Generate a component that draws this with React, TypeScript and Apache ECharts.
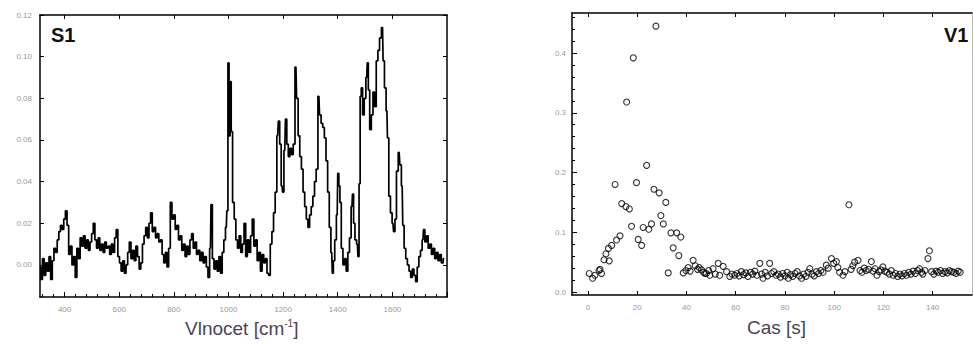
import React, { useEffect, useRef } from "react";
import * as echarts from "echarts";

// Spectrum S1: [wavenumber cm^-1, intensity]
const spectrum: [number, number][] = [
  [310, -0.001], [316, -0.007], [322, 0.003], [328, -0.005], [334, 0.001], [340, -0.003], [346, 0.004], [352, -0.007], [358, 0.002],
  [364, 0.008], [370, 0.006], [376, 0.012], [382, 0.016], [388, 0.019], [394, 0.017], [400, 0.022], [406, 0.026], [412, 0.019],
  [418, 0.005], [424, 0.009], [430, 0.0], [436, 0.004], [442, -0.006], [448, 0.008], [454, 0.003], [460, 0.013], [466, 0.009],
  [472, 0.014], [478, 0.008], [484, 0.012], [490, 0.007], [496, 0.011], [502, 0.015], [508, 0.02], [514, 0.012], [520, 0.008],
  [526, 0.013], [532, 0.007], [538, 0.01], [544, 0.006], [550, 0.011], [556, 0.008], [562, 0.009], [568, 0.005], [574, 0.01],
  [580, 0.006], [586, 0.013], [592, 0.017], [598, 0.004], [604, 0.001], [610, -0.003], [616, 0.002], [622, -0.004], [628, 0.0],
  [634, 0.006], [640, 0.011], [646, 0.003], [652, 0.007], [658, 0.002], [664, 0.009], [670, 0.004], [676, -0.002], [682, 0.001],
  [688, 0.01], [694, 0.014], [700, 0.018], [706, 0.013], [712, 0.02], [718, 0.025], [724, 0.016], [730, 0.018], [736, 0.013],
  [742, 0.015], [748, 0.011], [754, 0.012], [760, 0.005], [766, 0.001], [772, 0.006], [778, -0.001], [784, 0.008], [790, 0.03],
  [796, 0.022], [802, 0.024], [808, 0.017], [814, 0.019], [820, 0.012], [826, 0.014], [832, 0.007], [838, 0.01], [844, 0.004],
  [850, 0.009], [856, 0.005], [862, 0.012], [868, 0.015], [874, 0.008], [880, 0.011], [886, 0.005], [892, 0.007], [898, 0.002],
  [904, 0.006], [910, 0.001], [916, 0.004], [922, -0.001], [928, -0.006], [934, 0.008], [938, 0.029], [944, 0.003], [950, -0.002],
  [956, 0.002], [962, -0.003], [968, 0.004], [974, -0.004], [980, 0.006], [986, 0.012], [992, 0.018], [996, 0.026], [1000, 0.097],
  [1004, 0.062], [1008, 0.088], [1012, 0.064], [1018, 0.03], [1024, 0.022], [1030, 0.012], [1036, 0.008], [1042, 0.014], [1048, 0.006],
  [1054, 0.01], [1060, 0.02], [1066, 0.004], [1072, 0.012], [1078, 0.006], [1084, 0.014], [1090, 0.022], [1096, 0.009], [1102, 0.012],
  [1108, 0.002], [1114, 0.006], [1120, -0.003], [1126, 0.005], [1132, 0.001], [1138, 0.003], [1144, -0.004], [1150, -0.005],
  [1156, 0.01], [1162, 0.016], [1168, 0.025], [1174, 0.035], [1180, 0.062], [1185, 0.069], [1190, 0.058], [1196, 0.038], [1200, 0.035],
  [1206, 0.055], [1211, 0.07], [1216, 0.058], [1222, 0.052], [1228, 0.056], [1234, 0.053], [1240, 0.058], [1247, 0.095], [1252, 0.08],
  [1258, 0.062], [1264, 0.052], [1270, 0.046], [1276, 0.035], [1282, 0.028], [1288, 0.022], [1294, 0.018], [1300, 0.024], [1306, 0.028],
  [1312, 0.033], [1318, 0.04], [1324, 0.046], [1331, 0.081], [1336, 0.072], [1342, 0.068], [1348, 0.066], [1354, 0.061], [1360, 0.05],
  [1366, 0.035], [1372, 0.018], [1378, 0.006], [1382, -0.004], [1386, 0.002], [1392, 0.012], [1398, 0.024], [1402, 0.044], [1406, 0.038],
  [1410, 0.03], [1416, 0.008], [1422, 0.0], [1428, 0.003], [1434, -0.003], [1440, 0.006], [1446, 0.013], [1452, 0.028], [1456, 0.034],
  [1460, 0.02], [1466, 0.012], [1472, 0.01], [1476, 0.004], [1480, 0.039], [1484, 0.081], [1488, 0.085], [1494, 0.072], [1500, 0.08],
  [1506, 0.09], [1510, 0.097], [1514, 0.084], [1520, 0.065], [1526, 0.072], [1532, 0.083], [1538, 0.076], [1544, 0.098], [1550, 0.103],
  [1556, 0.109], [1564, 0.114], [1568, 0.098], [1574, 0.085], [1580, 0.074], [1584, 0.061], [1590, 0.033], [1596, 0.025], [1602, 0.02],
  [1607, 0.016], [1612, 0.022], [1618, 0.045], [1625, 0.054], [1630, 0.048], [1636, 0.038], [1640, 0.019], [1646, 0.008], [1652, 0.003],
  [1658, 0.0], [1664, -0.003], [1670, -0.006], [1676, -0.002], [1682, -0.005], [1688, -0.008], [1694, -0.001], [1700, 0.004],
  [1706, 0.007], [1712, 0.012], [1716, 0.017], [1722, 0.011], [1728, 0.014], [1734, 0.008], [1740, 0.01], [1746, 0.005], [1752, 0.008],
  [1758, 0.003], [1764, 0.006], [1770, 0.002], [1776, 0.005], [1782, 0.001], [1790, 0.003],
];

// V1: [time s, value]
const timeSeries: [number, number][] = [
  [0.5, 0.031], [1.9, 0.023], [2.8, 0.028], [4.5, 0.036], [4.9, 0.038], [5.5, 0.031], [6.5, 0.054], [7.3, 0.064], [8.3, 0.073],
  [8.6, 0.052], [9.6, 0.078], [11.0, 0.18], [11.6, 0.087], [13.0, 0.094], [13.7, 0.148], [15.4, 0.143], [15.7, 0.318], [16.8, 0.139],
  [17.7, 0.11], [18.4, 0.392], [19.7, 0.183], [20.4, 0.088], [21.8, 0.078], [22.4, 0.108], [23.8, 0.212], [24.7, 0.105], [25.8, 0.114],
  [26.8, 0.172], [27.6, 0.445], [28.9, 0.166], [29.6, 0.128], [30.6, 0.114], [31.6, 0.15], [32.6, 0.032], [33.7, 0.099], [34.6, 0.074],
  [36.0, 0.099], [36.9, 0.061], [37.7, 0.092], [38.7, 0.032], [39.8, 0.036], [40.7, 0.041], [41.5, 0.035], [42.7, 0.053], [43.6, 0.044],
  [44.5, 0.038], [45.2, 0.041], [46.1, 0.037], [47.0, 0.033], [47.5, 0.031], [48.1, 0.031], [49.0, 0.036], [49.5, 0.028], [50.8, 0.039],
  [51.7, 0.03], [52.9, 0.048], [53.5, 0.028], [54.9, 0.043], [56.3, 0.034], [57.6, 0.026], [58.5, 0.03], [59.6, 0.028],
  [60.5, 0.031], [61.4, 0.027], [62.3, 0.034], [63.2, 0.029], [64.1, 0.032], [65.0, 0.026], [66.0, 0.033], [66.9, 0.03], [67.8, 0.035],
  [68.6, 0.028], [69.8, 0.048], [70.5, 0.03], [71.1, 0.023], [72.0, 0.033], [72.9, 0.027], [73.8, 0.048], [74.6, 0.031], [75.5, 0.034],
  [76.4, 0.028], [77.3, 0.03], [78.2, 0.025], [79.1, 0.031], [80.0, 0.027], [80.9, 0.033], [81.4, 0.023], [82.3, 0.029], [83.2, 0.026],
  [84.1, 0.031], [85.0, 0.034], [85.9, 0.027], [86.8, 0.023], [87.6, 0.03], [88.5, 0.026], [89.4, 0.033], [90.1, 0.039], [91.0, 0.03],
  [91.9, 0.027], [92.8, 0.034], [93.7, 0.031], [94.6, 0.036], [95.5, 0.033], [96.8, 0.045], [97.6, 0.04], [98.9, 0.056], [99.8, 0.048],
  [100.9, 0.051], [101.5, 0.041], [102.2, 0.033], [103.6, 0.028], [104.4, 0.034], [106.0, 0.146], [106.9, 0.038], [107.6, 0.044],
  [108.3, 0.05], [109.7, 0.053], [110.5, 0.036], [111.3, 0.033], [112.2, 0.04], [113.0, 0.036], [114.0, 0.038], [115.1, 0.051],
  [115.8, 0.035], [116.6, 0.039], [117.4, 0.028], [118.3, 0.034], [119.0, 0.037], [119.8, 0.042], [120.6, 0.035], [121.5, 0.033],
  [122.4, 0.03], [123.2, 0.036], [124.0, 0.028], [124.9, 0.031], [125.8, 0.026], [126.7, 0.03], [127.6, 0.027], [128.5, 0.031],
  [129.4, 0.028], [130.3, 0.033], [131.2, 0.03], [132.1, 0.035], [133.0, 0.031], [133.9, 0.036], [134.7, 0.039], [135.5, 0.033],
  [136.0, 0.03], [136.9, 0.036], [138.1, 0.056], [138.7, 0.069], [139.6, 0.034], [140.5, 0.03], [141.4, 0.035], [142.3, 0.033],
  [143.2, 0.036], [144.1, 0.031], [145.0, 0.034], [145.9, 0.032], [146.8, 0.036], [147.7, 0.034], [148.6, 0.033], [149.5, 0.031],
  [150.4, 0.035], [151.2, 0.033],
];

const specXTicks = [400, 600, 800, 1000, 1200, 1400, 1600];
const specYTicks = [0, 0.02, 0.04, 0.06, 0.08, 0.1, 0.12];
const timeXTicks = [0, 20, 40, 60, 80, 100, 120, 140];
const timeYTicks = [0, 0.1, 0.2, 0.3, 0.4];

const FONT = "Liberation Sans, Arial, sans-serif";
const specMinor: number[] = [];
for (let v = 320; v <= 1800; v += 40) specMinor.push(v);
const timeYMinor: number[] = [];
for (let i = 0; i <= 23; i++) timeYMinor.push(Math.round(i * 0.02 * 1000) / 1000);

const lineAx = { show: true, onZero: false, lineStyle: { color: "#000", width: 1.5 } };
const noLine = { show: false, onZero: false };
const tickLbl = { fontSize: 8, color: "#999999", fontFamily: FONT };

export default function App() {
  const ref = useRef<HTMLDivElement>(null);
  useEffect(() => {
    if (!ref.current) return;
    const chart = echarts.init(ref.current, undefined, { renderer: "svg" });
    const option: any = {
      animation: false,
      backgroundColor: "#fff",
      grid: [
        { left: 40, top: 15, width: 407, height: 282 },
        { left: 572, top: 13, width: 400, height: 282 },
      ],
      xAxis: [
        {
          gridIndex: 0, type: "value", position: "bottom", min: 310, max: 1800,
          axisLine: lineAx, splitLine: { show: false },
          axisTick: { show: true, inside: true, length: 5, customValues: [...specXTicks, 1800], lineStyle: { color: "#000" } },
          axisLabel: { ...tickLbl, margin: 8, customValues: specXTicks, formatter: (v: number) => String(v) },
        },
        {
          gridIndex: 0, type: "value", position: "bottom", min: 310, max: 1800,
          axisLine: noLine, splitLine: { show: false }, axisLabel: { show: false },
          axisTick: { show: true, inside: true, length: 3, customValues: specMinor, lineStyle: { color: "#000" } },
        },
        {
          gridIndex: 0, type: "value", position: "top", min: 310, max: 1800,
          axisLine: lineAx, splitLine: { show: false }, axisLabel: { show: false },
          axisTick: { show: true, inside: true, length: 4, customValues: specXTicks, lineStyle: { color: "#000" } },
        },
        {
          gridIndex: 1, type: "value", position: "bottom", min: -6.5, max: 156,
          axisLine: lineAx, splitLine: { show: false },
          axisTick: { show: true, inside: true, length: 4, customValues: timeXTicks, lineStyle: { color: "#000" } },
          axisLabel: { ...tickLbl, margin: 8, customValues: timeXTicks, formatter: (v: number) => String(v) },
        },
        {
          gridIndex: 1, type: "value", position: "top", min: -6.5, max: 156,
          axisLine: lineAx, splitLine: { show: false }, axisLabel: { show: false },
          axisTick: { show: true, inside: true, length: 4, customValues: timeXTicks, lineStyle: { color: "#000" } },
        },
      ],
      yAxis: [
        {
          gridIndex: 0, type: "value", position: "left", min: -0.0154, max: 0.12,
          axisLine: lineAx, splitLine: { show: false },
          axisTick: { show: true, inside: true, length: 4, customValues: specYTicks, lineStyle: { color: "#000" } },
          axisLabel: { ...tickLbl, margin: 8, customValues: specYTicks, formatter: (v: number) => v.toFixed(2) },
        },
        {
          gridIndex: 0, type: "value", position: "right", min: -0.0154, max: 0.12,
          axisLine: lineAx, splitLine: { show: false }, axisLabel: { show: false },
          axisTick: { show: true, inside: true, length: 4, customValues: specYTicks, lineStyle: { color: "#000" } },
        },
        {
          gridIndex: 1, type: "value", position: "left", min: -0.005, max: 0.467,
          axisLine: lineAx, splitLine: { show: false },
          axisTick: { show: true, inside: true, length: 5, customValues: timeYTicks, lineStyle: { color: "#000" } },
          axisLabel: { ...tickLbl, margin: 6, customValues: timeYTicks, formatter: (v: number) => v.toFixed(1) },
        },
        {
          gridIndex: 1, type: "value", position: "left", min: -0.005, max: 0.467,
          axisLine: noLine, splitLine: { show: false }, axisLabel: { show: false },
          axisTick: { show: true, inside: true, length: 3, customValues: timeYMinor, lineStyle: { color: "#000" } },
        },
        {
          gridIndex: 1, type: "value", position: "right", min: -0.005, max: 0.467,
          axisLine: { show: true, onZero: false, lineStyle: { color: "#bbb", width: 1 } }, splitLine: { show: false },
          axisLabel: { show: false }, axisTick: { show: false },
        },
      ],
      series: [
        {
          type: "line", xAxisIndex: 0, yAxisIndex: 0, data: spectrum, showSymbol: false, step: "middle",
          lineStyle: { color: "#000", width: 1.7 }, silent: true,
        },
        {
          type: "scatter", xAxisIndex: 3, yAxisIndex: 2, data: timeSeries, symbol: "circle", symbolSize: 6,
          itemStyle: { color: "rgba(255,255,255,0)", borderColor: "#000", borderWidth: 1.1 }, silent: true,
        },
      ],
      graphic: [
        { type: "text", left: 51, top: 25, style: { text: "S1", font: `bold 20px ${FONT}`, fill: "#111" } },
        { type: "text", left: 944, top: 25, style: { text: "V1", font: `bold 20px ${FONT}`, fill: "#111" } },
        {
          type: "text", left: 185, top: 318,
          style: {
            text: "{a|Vlnocet [cm}{b|-1}{a|]}",
            rich: {
              a: { fontSize: 19, fontFamily: FONT, fill: "#4a4555", color: "#4a4555" },
              b: { fontSize: 10, fontFamily: FONT, fill: "#4a4555", color: "#4a4555", padding: [0, 0, 10, 0] },
            },
          },
        },
        { type: "text", left: 747, top: 318, style: { text: "Cas [s]", font: `19px ${FONT}`, fill: "#4a4555" } },
      ],
    };
    chart.setOption(option);
    return () => chart.dispose();
  }, []);
  return (
    <div
      ref={ref}
      style={{ position: "absolute", left: 0, top: 0, width: 973, height: 344, background: "#fff" }}
    />
  );
}
